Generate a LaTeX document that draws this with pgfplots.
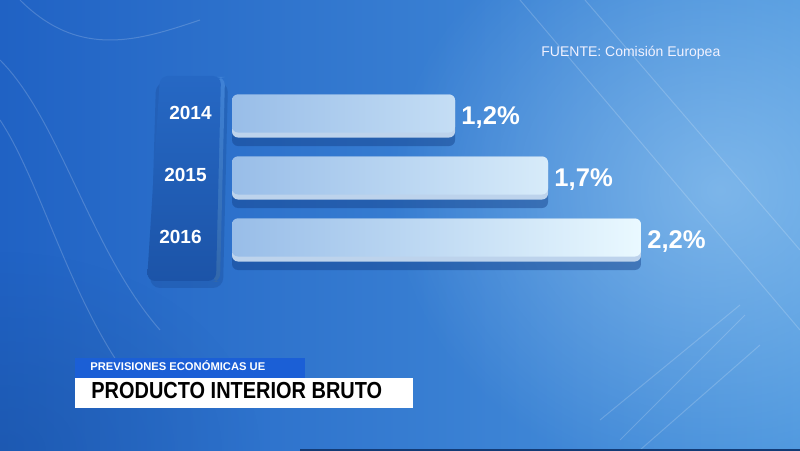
\documentclass[border=0pt]{standalone}
\usepackage{graphicx}
\usepackage{pgfplots}
\pgfplotsset{compat=1.18}
\usepackage{fontspec}
\setmainfont{Liberation Sans}
\usetikzlibrary{fadings}
\tikzfading[name=myfade, inner color=transparent!0, outer color=transparent!100]

\definecolor{bgL}{HTML}{2062C4}
\definecolor{bgR}{HTML}{4C96DE}
\definecolor{glow}{HTML}{A8D4F6}
\definecolor{colTop}{HTML}{2668C4}
\definecolor{colBot}{HTML}{1C54A8}
\definecolor{colSide}{HTML}{3F82D6}
\definecolor{barL}{HTML}{98BDE8}
\definecolor{barR}{HTML}{EAF9FF}
\definecolor{barLip}{HTML}{BDD3EC}
\definecolor{barShadow}{HTML}{123E86}
\definecolor{stripBlue}{HTML}{1B5FD6}

\begin{document}
\begin{tikzpicture}
\useasboundingbox (0,0) rectangle (400pt,225.5pt);
\begin{scope}[x=0.5pt,y=-0.5pt,yshift=225.5pt]
  \clip (0,0) rectangle (800,451);
  \shade[left color=bgL, right color=bgR] (0,0) rectangle (800,451);
  \fill[glow, opacity=0.55, path fading=myfade] (720,190) ellipse (330 and 300);
  \fill[bgL!70!black, opacity=0.3, path fading=myfade] (0,451) ellipse (260 and 200);
  % faint decorative lines
  \begin{scope}[white, opacity=0.18, line width=0.5pt]
    \draw (520,0) -- (800,330);
    \draw (585,0) -- (800,250);
    \draw (620,440) -- (745,315);
    \draw (640,450) -- (760,345);
    \draw (600,420) -- (740,305);
    \draw (0,60) .. controls (60,120) and (90,250) .. (160,330);
    \draw (0,120) .. controls (40,180) and (70,300) .. (130,380);
    \draw (20,0) .. controls (80,60) and (140,40) .. (200,20);
  \end{scope}
  % year column
  \fill[barShadow, opacity=0.25, rounded corners=5] (156,82) -- (228,82) -- (223,288) -- (150,288) -- cycle;
  \shade[top color=colSide, bottom color=colSide!80!black, rounded corners=4] (217,77) -- (225,77) -- (220,282) -- (212,282) -- cycle;
  \shade[top color=colTop, bottom color=colBot, rounded corners=4] (160,76) -- (221,76) -- (216,281) -- (147,281) -- cycle;
  % source
  \node[anchor=base west, inner sep=0, text=white!95!blue, font=\fontsize{7}{8}\selectfont] at (541,57) {FUENTE: Comisión Europea};
  % title boxes
  \fill[stripBlue] (75,358) rectangle (305,378);
  \fill[white] (75,378) rectangle (413,408);
  \node[anchor=base west, inner sep=0, text=white, font=\bfseries\fontsize{5.6}{6}\selectfont] at (90,371) {PREVISIONES ECONÓMICAS UE};
  \node[anchor=base west, inner sep=0, text=black, font=\bfseries\fontsize{11.6}{12}\selectfont] at (91,398) {\scalebox{0.86}[1]{PRODUCTO INTERIOR BRUTO}};
  \fill[bgL!60!black] (300,449) rectangle (800,451);
\end{scope}
\begin{axis}[
  at={(116pt,90pt)}, anchor=south west,
  scale only axis, width=204.5pt, height=93pt,
  xmin=0, xmax=2.2, ymin=-0.5, ymax=2.5, y dir=reverse,
  xtick=\empty, ytick={0,1,2},
  yticklabels={{2014},{2015\kern2.5pt},{2016\kern5pt}},
  yticklabel style={font=\bfseries\fontsize{9.5}{10}\selectfont, text=white, anchor=east, inner sep=0pt, xshift=-10pt, yshift=1.5pt},
  axis line style={draw=none}, major tick length=0pt,
  clip=false,
  /pgf/number format/.cd, use comma, fixed, fixed zerofill, precision=1, assume math mode=true,
]
\addplot[xbar, bar width=22pt, bar shift=-4pt, draw=none, fill=barShadow, opacity=0.45, rounded corners=3pt]
  coordinates {(1.2,0) (1.7,1) (2.2,2)};
\addplot[xbar, bar width=21.5pt, bar shift=0pt, draw=none, fill=barLip, rounded corners=3pt]
  coordinates {(1.2,0) (1.7,1) (2.2,2)};
\addplot[xbar, bar width=19pt, bar shift=1.25pt, draw=none, left color=barL, right color=barR, rounded corners=3pt,
  nodes near coords={\pgfmathprintnumber{\pgfplotspointmeta}\%},
  point meta=x,
  every node near coord/.append style={anchor=west, inner sep=0pt, xshift=3pt, yshift=-1pt, text=white, font=\bfseries\fontsize{12.8}{13}\selectfont}]
  coordinates {(1.2,0) (1.7,1) (2.2,2)};
\end{axis}
\end{tikzpicture}
\end{document}
